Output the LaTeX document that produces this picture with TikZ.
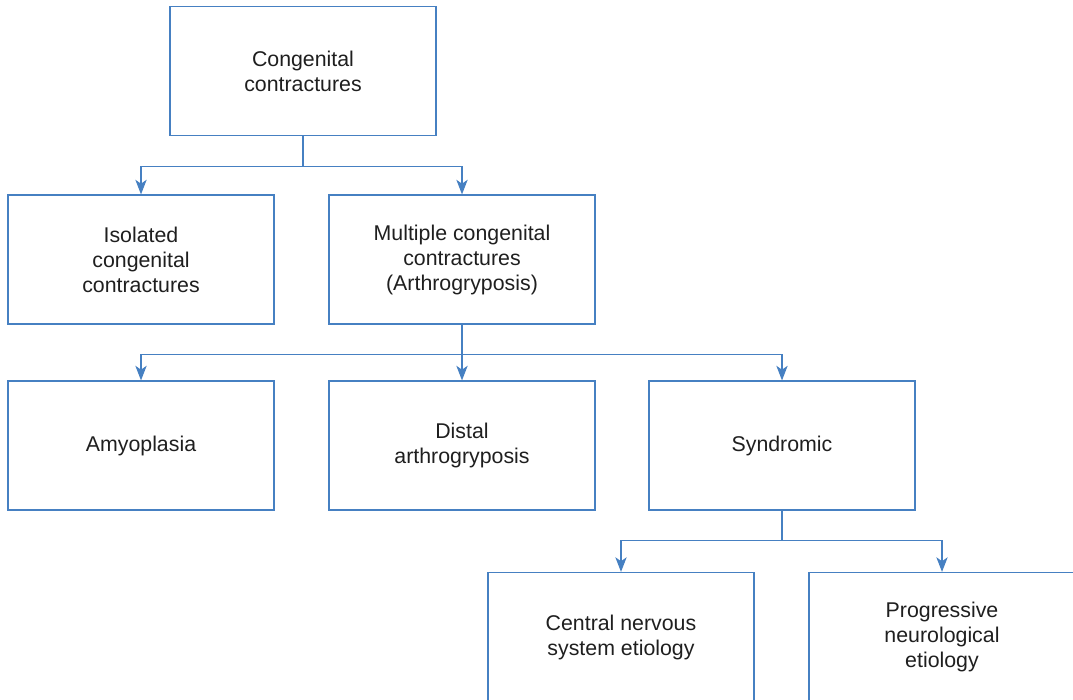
\documentclass[tikz,border=0pt]{standalone}
\usepackage{fontspec}
\setmainfont{Liberation Sans}
\usetikzlibrary{arrows.meta}
\definecolor{lnk}{RGB}{70,128,194}
\colorlet{txt}{black!88}
\tikzset{
    box/.style={draw=lnk,line width=0.9pt,fill=white,text=txt,align=center,
        minimum width=199.5pt,minimum height=96.75pt,inner sep=0pt,
        font=\fontsize{16}{18.75}\selectfont},
    arr/.style={draw=lnk,line width=0.9pt,-{Stealth[length=11pt,width=8.5pt,inset=3pt]}}
}

\begin{document}
\begin{tikzpicture}[x=0.75pt,y=-0.75pt]
        \useasboundingbox (0,0) rectangle (1073,699);
        \clip (0,0) rectangle (1073,699);
        \node [box] (cong) at (303,71) {Congenital\\contractures};
        \node [box] (iso) at (141,259.5) {Isolated\\congenital\\contractures};
        \node [box] (multi) at (462,259.5) {Multiple congenital\\contractures\\(Arthrogryposis)};
        \node [box] (amyo) at (141,445.5) {Amyoplasia};
        \node [box] (dist) at (462,445.5) {Distal\\arthrogryposis};
        \node [box] (synd) at (782,445.5) {Syndromic};
        \node [box] (cns) at (621,637) {Central nervous\\system etiology};
        \node [box] (prog) at (942,637) {Progressive\\neurological\\etiology};
        \foreach \a/\b in {cong/iso,cong/multi,multi/amyo,multi/dist,multi/synd,synd/cns,synd/prog} {
            \draw [arr] (\a.south) -- ++(0,30) -| (\b.north);
        }
    \end{tikzpicture}
\end{document}
